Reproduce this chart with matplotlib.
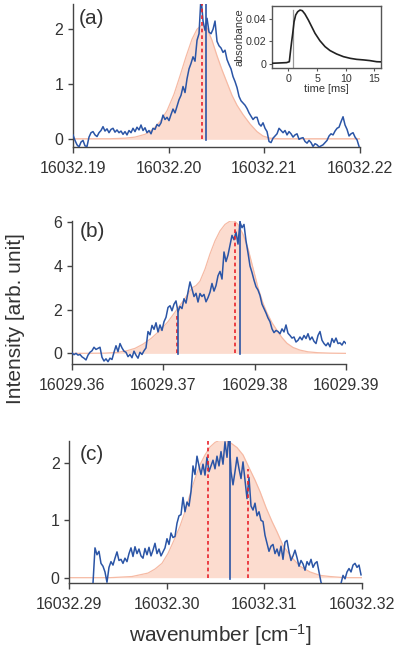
import numpy as np
import matplotlib
matplotlib.use("Agg")
import matplotlib.pyplot as plt

plt.rcParams['font.family'] = ['Liberation Sans', 'DejaVu Sans']
plt.rcParams['mathtext.default'] = 'regular'

# ---------------- data ----------------
# panel (a)
a_start, a_end = 16032.19, 16032.2199
a_y = [0.08, -0.02, -0.10, -0.14, -0.05, -0.02, -0.12, -0.13, 0.04, 0.12,
       0.14, 0.08, 0.05, 0.12, 0.16, 0.23, 0.15, 0.19, 0.12, 0.18,
       0.20, 0.13, 0.17, 0.12, 0.15, 0.09, 0.14, 0.08, 0.16, 0.12,
       0.20, 0.14, 0.22, 0.17, 0.26, 0.16, 0.21, 0.12, 0.16, 0.10,
       0.20, 0.18, 0.27, 0.24, 0.30, 0.44, 0.36, 0.40, 0.34, 0.45,
       0.55, 0.48, 0.60, 0.72, 0.80, 0.96, 0.85, 1.10, 1.28, 1.38,
       1.50, 1.42, 1.80, 1.92, 2.60, 2.15, 1.98, 2.20, 1.95, 1.92,
       2.00, 2.15, 1.78, 1.70, 1.66, 1.58, 1.62, 1.45, 1.36, 1.28,
       1.14, 1.05, 0.94, 0.78, 0.70, 0.66, 0.62, 0.56, 0.48, 0.42,
       0.36, 0.40, 0.40, 0.28, 0.24, 0.30, 0.20, 0.14, -0.04, -0.06,
       0.02, 0.06, 0.10, 0.20, 0.16, 0.12, 0.16, 0.08, 0.14, 0.10,
       0.04, 0.08, 0.10, 0.00, 0.02, 0.03, -0.04, -0.07, -0.02, -0.06,
       -0.13, -0.08, -0.10, -0.14, -0.12, -0.10, -0.06, -0.02, 0.06, 0.10,
       0.08, 0.15, 0.20, 0.22, 0.32, 0.41, 0.26, 0.18, 0.06, 0.10,
       0.12, 0.04, -0.01, -0.13]
a_env_x = [16032.19000, 16032.19387, 16032.19544, 16032.19648, 16032.19753,
           16032.19836, 16032.19909, 16032.19983, 16032.20056, 16032.20118,
           16032.20181, 16032.20244, 16032.20296, 16032.20348, 16032.20401,
           16032.20453, 16032.20505, 16032.20558, 16032.20610, 16032.20662,
           16032.20714, 16032.20777, 16032.20850, 16032.20923, 16032.20986,
           16032.21059, 16032.21164, 16032.22000]
a_env_y = [0.01, 0.01, 0.02, 0.04, 0.09, 0.18, 0.32, 0.52, 0.82, 1.15,
           1.50, 1.82, 2.00, 2.08, 2.02, 1.80, 1.52, 1.26, 1.03, 0.80,
           0.62, 0.45, 0.28, 0.14, 0.06, 0.02, 0.01, 0.01]
a_red_x = [16032.20345]
a_red_top = [2.46]
a_blue_x = [16032.2039]
a_blue_top = [2.46]

# panel (b)
b_start, b_end = 16029.36, 16029.39
b_y = [0.02, -0.06, 0.00, -0.08, -0.05, -0.16, -0.22, -0.30, -0.08, 0.05,
       0.12, 0.28, 0.18, 0.23, 0.28, -0.18, -0.35, -0.25, -0.38, -0.22,
       -0.28, 0.05, 0.35, 0.08, 0.45, 0.25, 0.10, 0.05, -0.15, -0.05,
       -0.20, 0.10, -0.08, -0.22, 0.05, -0.05, 0.12, 0.25, 1.00, 0.85,
       1.28, 1.10, 1.40, 0.98, 1.30, 1.05, 1.45, 1.65, 2.10, 2.18,
       1.95, 2.25, 2.40, 1.90, 2.15, 2.05, 2.50, 2.30, 2.80, 3.27,
       2.95, 2.60, 2.75, 2.35, 2.74, 2.60, 2.70, 2.36, 2.55, 2.80,
       3.20, 2.85, 3.10, 3.55, 3.75, 3.40, 4.64, 4.20, 4.50, 4.95,
       5.40, 5.20, 5.55, 5.00, 6.00, 5.75, 5.90, 5.15, 4.60, 4.00,
       3.70, 3.35, 3.05, 2.90, 2.65, 2.25, 2.05, 1.85, 1.62, 1.45,
       1.12, 0.95, 1.05, 1.00, 0.90, 1.12, 0.98, 1.30, 0.92, 0.82,
       0.70, 0.75, 0.52, 0.60, 0.75, 0.62, 0.82, 0.68, 0.90, 0.62,
       0.75, 0.55, 0.45, 0.82, 1.00, 0.60, 0.45, 0.35, 0.48, 0.30,
       0.68, 0.50, 0.70, 0.45, 0.48, 0.38, 0.55, 0.45]
b_env_x = [16029.36000, 16029.36361, 16029.36504, 16029.36602, 16029.36690,
           16029.36777, 16029.36865, 16029.36964, 16029.37051, 16029.37139,
           16029.37226, 16029.37314, 16029.37358, 16029.37401, 16029.37456,
           16029.37511, 16029.37566, 16029.37620, 16029.37675, 16029.37730,
           16029.37774, 16029.37818, 16029.37872, 16029.37927, 16029.37982,
           16029.38037, 16029.38091, 16029.38135, 16029.38190, 16029.38245,
           16029.38299, 16029.38354, 16029.38420, 16029.38496, 16029.38584,
           16029.38693, 16029.38825, 16029.39000]
b_env_y = [0.00, 0.01, 0.05, 0.12, 0.23, 0.42, 0.68, 1.05, 1.45, 1.95,
           2.45, 3.00, 2.85 + 0.25, 3.30, 3.85, 4.55, 5.15, 5.60, 5.90, 6.05,
           6.08, 5.90, 5.45, 4.80, 3.90, 3.00, 2.30, 1.85, 1.40, 1.05,
           0.72, 0.46, 0.27, 0.15, 0.07, 0.03, 0.01, 0.00]
b_red_x = [16029.37153, 16029.37781]
b_red_top = [1.85, 6.05]
b_blue_x = [16029.37164, 16029.37843]
b_blue_top = [1.95, 6.05]

# panel (c)
c_start, c_end = 16032.29243, 16032.31993
c_y = [-0.10, 0.52, 0.40, 0.46, 0.25, 0.20, 0.10, -0.08, 0.18, 0.28,
       0.22, 0.34, 0.45, 0.30, 0.32, 0.25, 0.34, 0.28, 0.42, 0.52,
       0.37, 0.54, 0.42, 0.50, 0.38, 0.34, 0.51, 0.40, 0.53, 0.38,
       0.48, 0.60, 0.42, 0.50, 0.38, 0.45, 0.52, 0.68, 0.58, 0.78,
       0.70, 0.72, 0.95, 1.08, 1.10, 1.40, 1.15, 1.32, 1.25, 1.50,
       1.95, 1.80, 2.12, 1.95, 1.80, 1.98, 1.79, 2.10, 1.85, 1.95,
       2.05, 1.90, 2.12, 1.95, 2.20, 1.98, 2.37, 2.10, 2.50, 1.85,
       1.62, 1.85, 2.10, 1.90, 1.73, 2.02, 1.70, 1.38, 1.75, 1.25,
       1.18, 1.30, 1.08, 1.15, 1.00, 0.98, 0.74, 0.60, 0.46, 0.55,
       0.58, 0.42, 0.50, 0.38, 0.55, 0.32, 0.62, 0.65, 0.45, 0.30,
       0.38, 0.48, 0.35, 0.20, 0.30, 0.24, 0.13, 0.28, 0.22, 0.32,
       0.18, 0.25, 0.28, 0.10, -0.08, -0.16, -0.12, -0.18, -0.13, -0.20,
       -0.12, -0.17, -0.13, -0.18, -0.10, 0.04, -0.02, 0.10, 0.16, 0.10,
       0.22, 0.25, 0.18, 0.22, 0.05]
c_env_x = [16032.29000, 16032.29418, 16032.29643, 16032.29807, 16032.29879,
           16032.29951, 16032.30012, 16032.30084, 16032.30136, 16032.30187,
           16032.30238, 16032.30290, 16032.30341, 16032.30392, 16032.30444,
           16032.30495, 16032.30546, 16032.30598, 16032.30649, 16032.30721,
           16032.30783, 16032.30855, 16032.30906, 16032.30957, 16032.31019,
           16032.31080, 16032.31131, 16032.31193, 16032.31244, 16032.31295,
           16032.31367, 16032.31470, 16032.31572, 16032.31675, 16032.31829,
           16032.32000]
c_env_y = [0.00, 0.00, 0.02, 0.08, 0.15, 0.25, 0.42, 0.69, 0.90, 1.15,
           1.45, 1.73, 1.97, 2.14, 2.28, 2.36, 2.40, 2.40, 2.36, 2.27,
           2.14, 1.88, 1.70, 1.50, 1.22, 0.98, 0.80, 0.56, 0.44, 0.33,
           0.20, 0.10, 0.04, 0.02, 0.00, 0.00]
c_red_x = [16032.30426, 16032.30837]
c_red_top = [2.39, 1.90]
c_blue_x = [16032.30646]
c_blue_top = [2.39]

# inset (absorbance vs time)
inset_t = [-2.9, -1.5, -0.3, 0.17, 0.4, 0.58, 0.76, 1.0, 1.28, 1.63, 2.03, 2.44,
           2.9, 3.5, 4.07, 4.65, 5.5, 6.4, 7.27, 8.4, 9.6, 10.8, 11.9, 13.1,
           14.2, 15.4, 16.45]
inset_a = [0.0006, 0.0009, 0.0012, 0.0020, 0.0124, 0.0200, 0.0270, 0.0376,
           0.0436, 0.0465, 0.0480, 0.0474, 0.0444, 0.0390, 0.0332, 0.0273,
           0.0207, 0.0154, 0.0119, 0.0089, 0.0065, 0.0050, 0.0041, 0.0036,
           0.0030, 0.0020, 0.0018]
inset_marker_t = 0.77

panels = [
    dict(start=a_start, end=a_end, y=a_y, ex=a_env_x, ey=a_env_y,
         rx=a_red_x, rt=a_red_top, bx=a_blue_x, bt=a_blue_top,
         xt=[16032.19, 16032.20, 16032.21, 16032.22],
         xtl=['16032.19', '16032.20', '16032.21', '16032.22'],
         yt=[0, 1, 2], ylim=(-0.14, 2.46), xlim=(16032.19, 16032.22),
         pos=[73, 360, 4, 147], lab='(a)', labpos=(79, 18)),
    dict(start=b_start, end=b_end, y=b_y, ex=b_env_x, ey=b_env_y,
         rx=b_red_x, rt=b_red_top, bx=b_blue_x, bt=b_blue_top,
         xt=[16029.36, 16029.37, 16029.38, 16029.39],
         xtl=['16029.36', '16029.37', '16029.38', '16029.39'],
         yt=[0, 2, 4, 6], ylim=(-0.5, 6.08), xlim=(16029.36, 16029.39),
         pos=[72, 346, 220.5, 364.3], lab='(b)', labpos=(80, 231.5)),
    dict(start=c_start, end=c_end, y=c_y, ex=c_env_x, ey=c_env_y,
         rx=c_red_x, rt=c_red_top, bx=c_blue_x, bt=c_blue_top,
         xt=[16032.29, 16032.30, 16032.31, 16032.32],
         xtl=['16032.29', '16032.30', '16032.31', '16032.32'],
         yt=[0, 1, 2], ylim=(-0.098, 2.39), xlim=(16032.29, 16032.32),
         pos=[69.3, 361.7, 440.7, 583.3], lab='(c)', labpos=(80, 455)),
]

W, H = 399, 650
fig = plt.figure(figsize=(W / 100, H / 100), dpi=100)

BLUE = '#2b55a6'
RED = '#e8232b'
FILL = '#fcdccf'
EDGE = '#f6baa4'
SPINE = '#444444'

for p in panels:
    l, r, t, b = p['pos']
    ax = fig.add_axes([l / W, 1 - b / H, (r - l) / W, (b - t) / H])
    x = np.linspace(p['start'], p['end'], len(p['y']))
    ax.fill_between(p['ex'], 0, p['ey'], color=FILL, lw=0, zorder=1)
    ax.plot(p['ex'], p['ey'], color=EDGE, lw=0.9, zorder=1.5)
    ax.plot(x, p['y'], color=BLUE, lw=1.1, zorder=3)
    for xx, tt in zip(p['rx'], p['rt']):
        ax.plot([xx, xx], [0, tt], color=RED, lw=1.2, ls=(0, (2.2, 1.8)), zorder=4)
    for xx, tt in zip(p['bx'], p['bt']):
        ax.plot([xx, xx], [-0.02, tt], color=BLUE, lw=1.2, zorder=4)
    ax.set_xlim(*p['xlim'])
    ax.set_ylim(*p['ylim'])
    ax.set_xticks(p['xt'])
    ax.set_xticklabels(p['xtl'])
    ax.set_yticks(p['yt'])
    ax.set_yticklabels([str(v) for v in p['yt']])
    for s in ['top', 'right']:
        ax.spines[s].set_visible(False)
    for s in ['left', 'bottom']:
        ax.spines[s].set_color(SPINE)
        ax.spines[s].set_linewidth(1.0)
    ax.tick_params(axis='x', direction='out', length=4.5, width=1.0, color=SPINE,
                   labelsize=11.5, labelcolor='#333333', pad=5.5)
    ax.tick_params(axis='y', direction='out', length=3.5, width=1.0, color=SPINE,
                   labelsize=11.5, labelcolor='#333333', pad=3.5)
    ax.patch.set_visible(False)
    fig.text(p['labpos'][0] / W, 1 - p['labpos'][1] / H, p['lab'],
             fontsize=15, color='#333333', ha='left', va='center')

# inset
il, ir, it, ib = 271.7, 381, 6, 68
axi = fig.add_axes([il / W, 1 - ib / H, (ir - il) / W, (ib - it) / H])
axi.plot(inset_t, inset_a, color='#222222', lw=1.2, zorder=3)
axi.axvline(inset_marker_t, ymin=0.02, ymax=0.93, color='#999999', lw=0.9, zorder=2)
axi.set_xlim(-2.9, 16.15)
axi.set_ylim(-0.0036, 0.0516)
axi.set_xticks([0, 5, 10, 15])
axi.set_xticklabels(['0', '5', '10', '15'])
axi.set_yticks([0, 0.02, 0.04])
axi.set_yticklabels(['0', '0.02', '0.04'])
for s in axi.spines.values():
    s.set_color('#555555')
    s.set_linewidth(1.0)
axi.tick_params(direction='out', length=2.5, width=0.8, color='#555555',
                labelsize=7.7, labelcolor='#333333', pad=1.5)
axi.set_xlabel('time [ms]', fontsize=7.9, color='#333333', labelpad=0.5)
axi.set_ylabel('absorbance', fontsize=7.9, color='#333333', labelpad=1)

fig.text(15.8 / W, 1 - 319 / H, 'Intensity [arb. unit]', rotation=90,
         fontsize=15, color='#333333', ha='center', va='center')
fig.text(220.5 / W, 1 - 641.7 / H, 'wavenumber [cm$^{-1}$]',
         fontsize=15, color='#333333', ha='center', va='baseline')

fig.savefig('out.png', dpi=100)
